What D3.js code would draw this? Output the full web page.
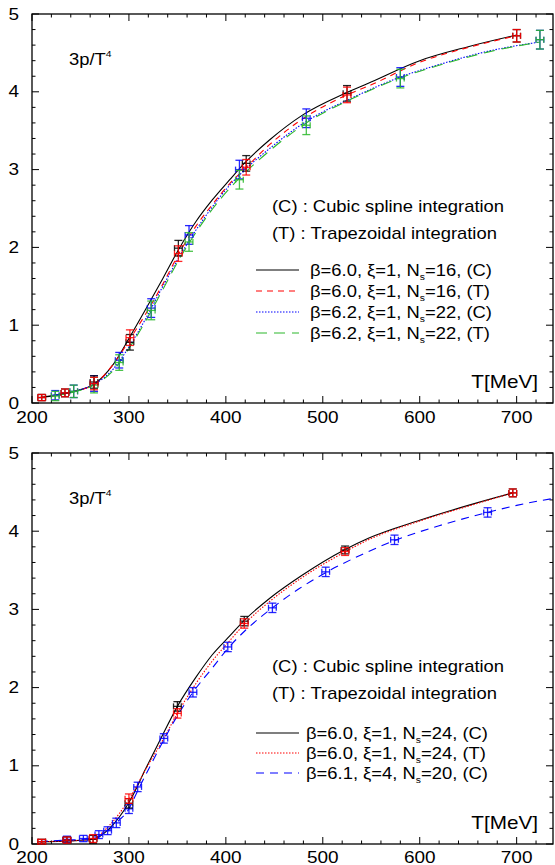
<!DOCTYPE html>
<html>
<head>
<meta charset="utf-8">
<script src="https://cdn.jsdelivr.net/npm/d3@7"></script>
<style>
  body { margin: 0; background: #fff; }
  svg { display: block; font-family: "Liberation Sans", Arial, sans-serif; }
</style>
</head>
<body>
<div id="chart"></div>
<script>
// ---- Datos: panel superior ----
const tempsTop60 = [210, 234, 264, 301, 351, 421, 525, 700];
const valsTop60C = [0.07, 0.13, 0.27, 0.78, 1.99, 3.08, 3.98, 4.72];
const valsTop60T = [0.07, 0.13, 0.25, 0.84, 1.92, 3.03, 3.96, 4.72];
const errsTop60 = [0.04, 0.05, 0.08, 0.10, 0.10, 0.10, 0.10, 0.08];

const tempsTop62 = [224, 243, 264, 290, 323, 362, 414, 483, 580, 724];
const valsTop62C = [0.10, 0.15, 0.25, 0.55, 1.22, 2.16, 3.00, 3.66, 4.19, 4.67];
const valsTop62T = [0.09, 0.15, 0.23, 0.52, 1.19, 2.07, 2.87, 3.57, 4.17, 4.67];
const errsTop62 = [0.06, 0.08, 0.10, 0.10, 0.12, 0.12, 0.12, 0.12, 0.12, 0.12];

// curvas [T, 3p/T^4]
const curveTop60C = [[208,0.07],[240,0.14],[265,0.25],[284,0.50],[301,0.85],[318,1.22],[335,1.60],[352,1.99],[369,2.33],[386,2.61],[404,2.87],[419,3.08],[445,3.38],[479,3.70],[523,3.98],[547,4.11],[600,4.40],[650,4.58],[700,4.73]];
const curveTop60T = [[208,0.07],[240,0.14],[265,0.25],[284,0.50],[301,0.82],[318,1.16],[335,1.53],[352,1.93],[369,2.27],[386,2.55],[404,2.82],[421,3.03],[445,3.32],[479,3.65],[525,3.96],[550,4.09],[600,4.38],[650,4.57],[700,4.72]];
const curveTop62C = [[222,0.10],[243,0.15],[264,0.24],[284,0.44],[301,0.74],[318,1.10],[335,1.50],[352,1.88],[369,2.22],[386,2.52],[404,2.80],[414,2.93],[445,3.27],[483,3.62],[530,3.92],[580,4.19],[620,4.35],[670,4.52],[724,4.64]];
const curveTop62T = [[222,0.09],[243,0.14],[264,0.23],[284,0.42],[301,0.72],[318,1.07],[335,1.46],[352,1.85],[369,2.19],[386,2.49],[404,2.76],[414,2.89],[445,3.24],[483,3.60],[530,3.91],[580,4.18],[620,4.34],[670,4.51],[724,4.64]];

// ---- Datos: panel inferior ----
const tempsBot60 = [210, 236, 263, 300, 350, 419, 523, 696];
const valsBot60C = [0.03, 0.05, 0.06, 0.52, 1.76, 2.85, 3.76, 4.49];
const valsBot60T = [0.03, 0.05, 0.07, 0.58, 1.67, 2.82, 3.74, 4.49];
const errsBot60 = [0.03, 0.04, 0.05, 0.06, 0.06, 0.06, 0.05, 0.05];

const tempsBot61 = [236, 253, 269, 278, 287, 300, 309, 336, 366, 402, 448, 503, 574, 670];
const valsBot61C = [0.06, 0.07, 0.12, 0.17, 0.27, 0.45, 0.73, 1.35, 1.94, 2.52, 3.02, 3.48, 3.89, 4.24];
const errsBot61 = [0.04, 0.04, 0.05, 0.05, 0.06, 0.06, 0.06, 0.06, 0.06, 0.06, 0.06, 0.06, 0.06, 0.06];

const curveBot60C = [[208,0.03],[240,0.04],[263,0.06],[280,0.20],[300,0.53],[318,0.98],[335,1.40],[350,1.76],[369,2.13],[386,2.42],[404,2.66],[419,2.86],[445,3.14],[479,3.44],[522,3.76],[547,3.91],[600,4.14],[650,4.33],[696,4.49]];
const curveBot60T = [[208,0.03],[240,0.04],[263,0.07],[280,0.24],[300,0.57],[318,0.97],[335,1.33],[350,1.67],[369,2.05],[386,2.34],[404,2.60],[419,2.81],[445,3.10],[479,3.41],[522,3.73],[547,3.89],[600,4.13],[650,4.32],[696,4.49]];
const curveBot61C = [[208,0.03],[236,0.05],[253,0.06],[269,0.10],[278,0.16],[287,0.27],[300,0.45],[309,0.68],[320,0.95],[336,1.33],[350,1.64],[366,1.94],[386,2.25],[402,2.50],[420,2.73],[448,3.02],[475,3.26],[503,3.47],[540,3.70],[574,3.88],[620,4.07],[670,4.24],[700,4.33],[738,4.42]];

// Etiquetas de ejes
const xTicks = [200, 300, 400, 500, 600, 700];
const yTicks = [0, 1, 2, 3, 4, 5];

const width = 555;
const height = 865;
const stretch = 1.15; // el texto original es algo más ancho

const svg = d3.select("#chart")
    .append("svg")
    .attr("width", width)
    .attr("height", height);

const x = d3.scaleLinear().domain([200, 737.5]).range([32, 553]);

const line = d3.line().curve(d3.curveMonotoneX);

// Texto ensanchado horizontalmente
function addText(g, px, py, size, anchor) {
    return g.append("text")
        .attr("transform", `translate(${px},${py}) scale(${stretch},1)`)
        .attr("text-anchor", anchor || "start")
        .attr("font-size", size);
}

// Dibujar un panel completo
function renderPanel(cfg) {
    const y = d3.scaleLinear().domain([0, 5]).range([cfg.bottom, cfg.top]);
    const g = svg.append("g");
    line.x(d => x(d[0])).y(d => y(d[1]));

    // Marco
    g.append("rect")
        .attr("x", x(200)).attr("y", y(5))
        .attr("width", x(737.5) - x(200)).attr("height", y(0) - y(5))
        .attr("fill", "none").attr("stroke", "#000").attr("stroke-width", 1.3);

    // Marcas del eje X (abajo y arriba)
    const xMinor = d3.range(200, 737, 20);
    xMinor.forEach(t => {
        const len = t % 100 === 0 ? 7 : 3.5;
        g.append("line").attr("x1", x(t)).attr("x2", x(t))
            .attr("y1", y(0)).attr("y2", y(0) - len)
            .attr("stroke", "#000");
        g.append("line").attr("x1", x(t)).attr("x2", x(t))
            .attr("y1", y(5)).attr("y2", y(5) + len)
            .attr("stroke", "#000");
    });
    const yMinor = d3.range(0, 5.01, 0.2);
    yMinor.forEach(v => {
        const major = Math.abs(v - Math.round(v)) < 1e-6;
        const len = major ? 7 : 3.5;
        g.append("line").attr("x1", x(200)).attr("x2", x(200) + len)
            .attr("y1", y(v)).attr("y2", y(v)).attr("stroke", "#000");
        g.append("line").attr("x1", x(737.5)).attr("x2", x(737.5) - len)
            .attr("y1", y(v)).attr("y2", y(v)).attr("stroke", "#000");
    });

    xTicks.forEach(d => {
        addText(g, x(d), cfg.xLabelY, 16.5, "middle").text(d);
    });
    yTicks.forEach(d => {
        addText(g, 19, y(d) + 5.5, 16.5, "end").text(d);
    });

    // Título del eje Y
    const yt = addText(g, 69, cfg.top + 51, 16);
    yt.append("tspan").text("3p/T");
    yt.append("tspan").attr("font-size", 9).attr("dy", -8).text("4");

    addText(g, 538, y(0) - 15, 18, "end").text("T[MeV]");

    // Curvas
    cfg.curves.forEach(c => {
        g.append("path").datum(c.data)
            .attr("d", line)
            .attr("fill", "none")
            .attr("stroke", c.color)
            .attr("stroke-width", 1.1)
            .attr("stroke-dasharray", c.dash);
    });

    // Puntos con barras de error
    cfg.points.forEach(p => {
        const pts = p.temps.map((t, i) => ({ t: t, v: p.vals[i], e: p.errs[i] }));
        const pg = g.append("g").attr("stroke", p.color).attr("stroke-opacity", 0.85).attr("stroke-width", 1.3);
        pts.forEach(d => {
            const cx = x(d.t), cy = y(d.v);
            const y1 = y(d.v - d.e), y2 = y(d.v + d.e);
            pg.append("line").attr("x1", cx).attr("x2", cx).attr("y1", y1).attr("y2", y2);
            pg.append("line").attr("x1", cx - 4).attr("x2", cx + 4).attr("y1", y1).attr("y2", y1);
            pg.append("line").attr("x1", cx - 4).attr("x2", cx + 4).attr("y1", y2).attr("y2", y2);
            pg.append("line").attr("x1", x(d.t - 4)).attr("x2", x(d.t + 4)).attr("y1", cy).attr("y2", cy);
            pg.append("line").attr("x1", x(d.t - 4)).attr("x2", x(d.t - 4)).attr("y1", cy - 3).attr("y2", cy + 3);
            pg.append("line").attr("x1", x(d.t + 4)).attr("x2", x(d.t + 4)).attr("y1", cy - 3).attr("y2", cy + 3);
        });
    });

    // Leyenda
    addText(g, 272, cfg.noteY, 16).text("(C) : Cubic spline integration");
    addText(g, 272, cfg.noteY + 27, 16).text("(T) : Trapezoidal integration");

    cfg.curves.forEach((c, i) => {
        const ly = cfg.legendY + i * cfg.legendStep;
        g.append("line").attr("x1", 256).attr("x2", 299)
            .attr("y1", ly).attr("y2", ly)
            .attr("stroke", c.color).attr("stroke-width", 1.2)
            .attr("stroke-dasharray", c.dash);
        const t = addText(g, cfg.legendTextX, ly + 6, 16);
        t.append("tspan").text(`β=${c.beta}, ξ=${c.xi}, N`);
        t.append("tspan").attr("font-size", 9).attr("dy", 4).text("s");
        t.append("tspan").attr("dy", -4).text(`=${c.ns}, (${c.kind})`);
    });
}

renderPanel({
    top: 14, bottom: 403, xLabelY: 423,
    noteY: 212, legendY: 270, legendStep: 21, legendTextX: 310,
    curves: [
        { data: curveTop60C, color: "#000", dash: null, beta: "6.0", xi: 1, ns: 16, kind: "C" },
        { data: curveTop60T, color: "#f00", dash: "6,5", beta: "6.0", xi: 1, ns: 16, kind: "T" },
        { data: curveTop62C, color: "#00f", dash: "1.5,1.5", beta: "6.2", xi: 1, ns: 22, kind: "C" },
        { data: curveTop62T, color: "#2cb82c", dash: "11,7", beta: "6.2", xi: 1, ns: 22, kind: "T" }
    ],
    points: [
        { temps: tempsTop62, vals: valsTop62C, errs: errsTop62, color: "#00f" },
        { temps: tempsTop62, vals: valsTop62T, errs: errsTop62, color: "#2cb82c" },
        { temps: tempsTop60, vals: valsTop60C, errs: errsTop60, color: "#000" },
        { temps: tempsTop60, vals: valsTop60T, errs: errsTop60, color: "#f00" }
    ]
});

renderPanel({
    top: 453, bottom: 844, xLabelY: 862.5,
    noteY: 672, legendY: 733, legendStep: 20, legendTextX: 306,
    curves: [
        { data: curveBot60C, color: "#000", dash: null, beta: "6.0", xi: 1, ns: 24, kind: "C" },
        { data: curveBot60T, color: "#f00", dash: "1.5,1.5", beta: "6.0", xi: 1, ns: 24, kind: "T" },
        { data: curveBot61C, color: "#00f", dash: "8,6", beta: "6.1", xi: 4, ns: 20, kind: "C" }
    ],
    points: [
        { temps: tempsBot61, vals: valsBot61C, errs: errsBot61, color: "#00f" },
        { temps: tempsBot60, vals: valsBot60C, errs: errsBot60, color: "#000" },
        { temps: tempsBot60, vals: valsBot60T, errs: errsBot60, color: "#f00" }
    ]
});
</script>
</body>
</html>
